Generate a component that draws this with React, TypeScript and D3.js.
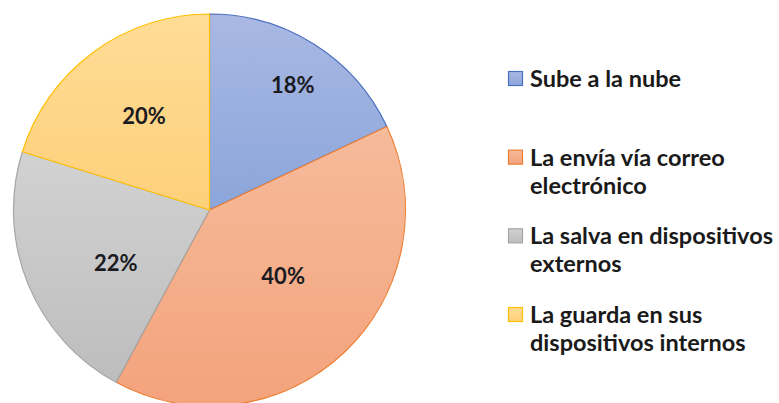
import React from "react";
import * as d3 from "d3";

const categories: string[] = [
  "Sube a la nube",
  "La envía vía correo electrónico",
  "La salva en dispositivos externos",
  "La guarda en sus dispositivos internos",
];
const legendLines: string[][] = [
  ["Sube a la nube"],
  ["La envía vía correo", "electrónico"],
  ["La salva en dispositivos", "externos"],
  ["La guarda en sus", "dispositivos internos"],
];
const values: number[] = [18.0, 39.9, 21.9, 20.2];

// styles
const fillTop = ["#a9b8e3", "#f6bb9b", "#d2d2d2", "#ffdc96"];
const fillBottom = ["#8ba6db", "#f3a37c", "#bdbdbd", "#fdd07a"];
const strokes = ["#4a6fbf", "#ed7d31", "#a5a5a5", "#ffc000"];
// label placement tweaks (radius fraction, angle offset in degrees)
const labelRadius = [0.765, 0.505, 0.55, 0.585];
const labelAngleOffset = [1.3, -4.7, -7.4, 1.5];

const W = 779;
const H = 403;
const CX = 209.5;
const CY = 210;
const R = 196;

export default function App() {
  const total = d3.sum(values);
  const pie = d3
    .pie<number>()
    .sort(null)
    .value((d) => d);
  const arcs = pie(values);
  const arcGen = d3.arc<d3.PieArcDatum<number>>().innerRadius(0).outerRadius(R);
  const pct = d3.format(".0%");
  const legendY = d3.scaleLinear().domain([0, 3]).range([87, 323]);
  const lineH = 28;

  return (
    <svg
      width={W}
      height={H}
      style={{ position: "absolute", left: 0, top: 0, display: "block", background: "#fff" }}
      fontFamily="Lato, 'Open Sans', sans-serif"
    >
      <defs>
        {categories.map((_, i) => (
          <linearGradient key={i} id={`g${i}`} x1="0" y1="0" x2="0" y2="1">
            <stop offset="0%" stopColor={fillTop[i]} />
            <stop offset="100%" stopColor={fillBottom[i]} />
          </linearGradient>
        ))}
      </defs>
      <g transform={`translate(${CX},${CY})`}>
        {arcs.map((a, i) => (
          <path
            key={i}
            d={arcGen(a) || ""}
            fill={`url(#g${i})`}
            stroke={strokes[i]}
            strokeWidth={1.2}
            strokeLinejoin="round"
          />
        ))}
        {arcs.map((a, i) => {
          const ang = (a.startAngle + a.endAngle) / 2 + (labelAngleOffset[i] * Math.PI) / 180;
          const r = R * labelRadius[i];
          const x = r * Math.sin(ang);
          const y = -r * Math.cos(ang);
          return (
            <text
              key={i}
              x={x}
              y={y}
              dy="0.36em"
              textAnchor="middle"
              fontSize={22}
              fontWeight={700}
              fill="#1a1a22"
            >
              {pct(values[i] / total)}
            </text>
          );
        })}
      </g>
      <g>
        {legendLines.map((lines, i) => {
          const by = legendY(i);
          return (
            <g key={i}>
              <rect
                x={508.5}
                y={by - 15.5}
                width={14}
                height={14}
                fill={`url(#g${i})`}
                stroke={strokes[i]}
                strokeWidth={1.2}
              />
              <text x={530} y={by} fontSize={23.5} fontWeight={700} fill="#1a1a1a">
                {lines.map((l, j) => (
                  <tspan key={j} x={530} y={by + j * lineH}>
                    {l}
                  </tspan>
                ))}
              </text>
            </g>
          );
        })}
      </g>
    </svg>
  );
}
